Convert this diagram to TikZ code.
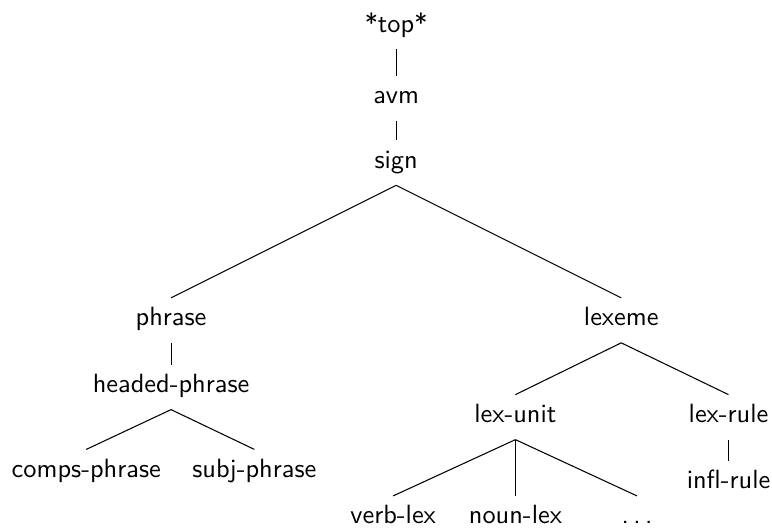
\documentclass[tikz,border=0pt]{standalone}
\usepackage{tikz}

\tikzset{
  type/.style={anchor=base, font=\sffamily, text height=0.7em, text depth=0.3em, inner sep=0.3333em},
  branch/.style={line width=0.4pt}
}

\begin{document}
\begin{tikzpicture}
% Fix the picture size
\useasboundingbox (0, 0) rectangle (10.29, 7.03);

% Place the types
\node[type] (top) at (5.28, 6.60) {*top*};
\node[type] (avm) at (5.28, 5.65) {avm};
\node[type] (sign) at (5.28, 4.79) {sign};
\node[type] (phrase) at (2.28, 2.69) {phrase};
\node[type] (lexeme) at (8.28, 2.69) {lexeme};
\node[type] (hdphrase) at (2.28, 1.80) {headed-phrase};
\node[type] (comps) at (1.15, 0.67) {comps-phrase};
\node[type] (subj) at (3.39, 0.67) {subj-phrase};
\node[type] (lexunit) at (6.87, 1.40) {lex-unit};
\node[type] (lexrule) at (9.71, 1.40) {lex-rule};
\node[type] (infl) at (9.71, 0.52) {infl-rule};
\node[type] (verblex) at (5.24, 0.05) {verb-lex};
\node[type] (nounlex) at (6.87, 0.05) {noun-lex};
\node[type] (dots) at (8.49, 0.05) {.\,.\,.};

% Draw the branches
\draw[branch] (top.south) -- (avm.north);
\draw[branch] (avm.south) -- (sign.north);
\draw[branch] (sign.south) -- (phrase.north);
\draw[branch] (sign.south) -- (lexeme.north);
\draw[branch] (phrase.south) -- (hdphrase.north);
\draw[branch] (hdphrase.south) -- (comps.north);
\draw[branch] (hdphrase.south) -- (subj.north);
\draw[branch] (lexeme.south) -- (lexunit.north);
\draw[branch] (lexeme.south) -- (lexrule.north);
\draw[branch] (lexrule.south) -- (infl.north);
\draw[branch] (lexunit.south) -- (verblex.north);
\draw[branch] (lexunit.south) -- (nounlex.north);
\draw[branch] (lexunit.south) -- (dots.north);
\end{tikzpicture}
\end{document}
